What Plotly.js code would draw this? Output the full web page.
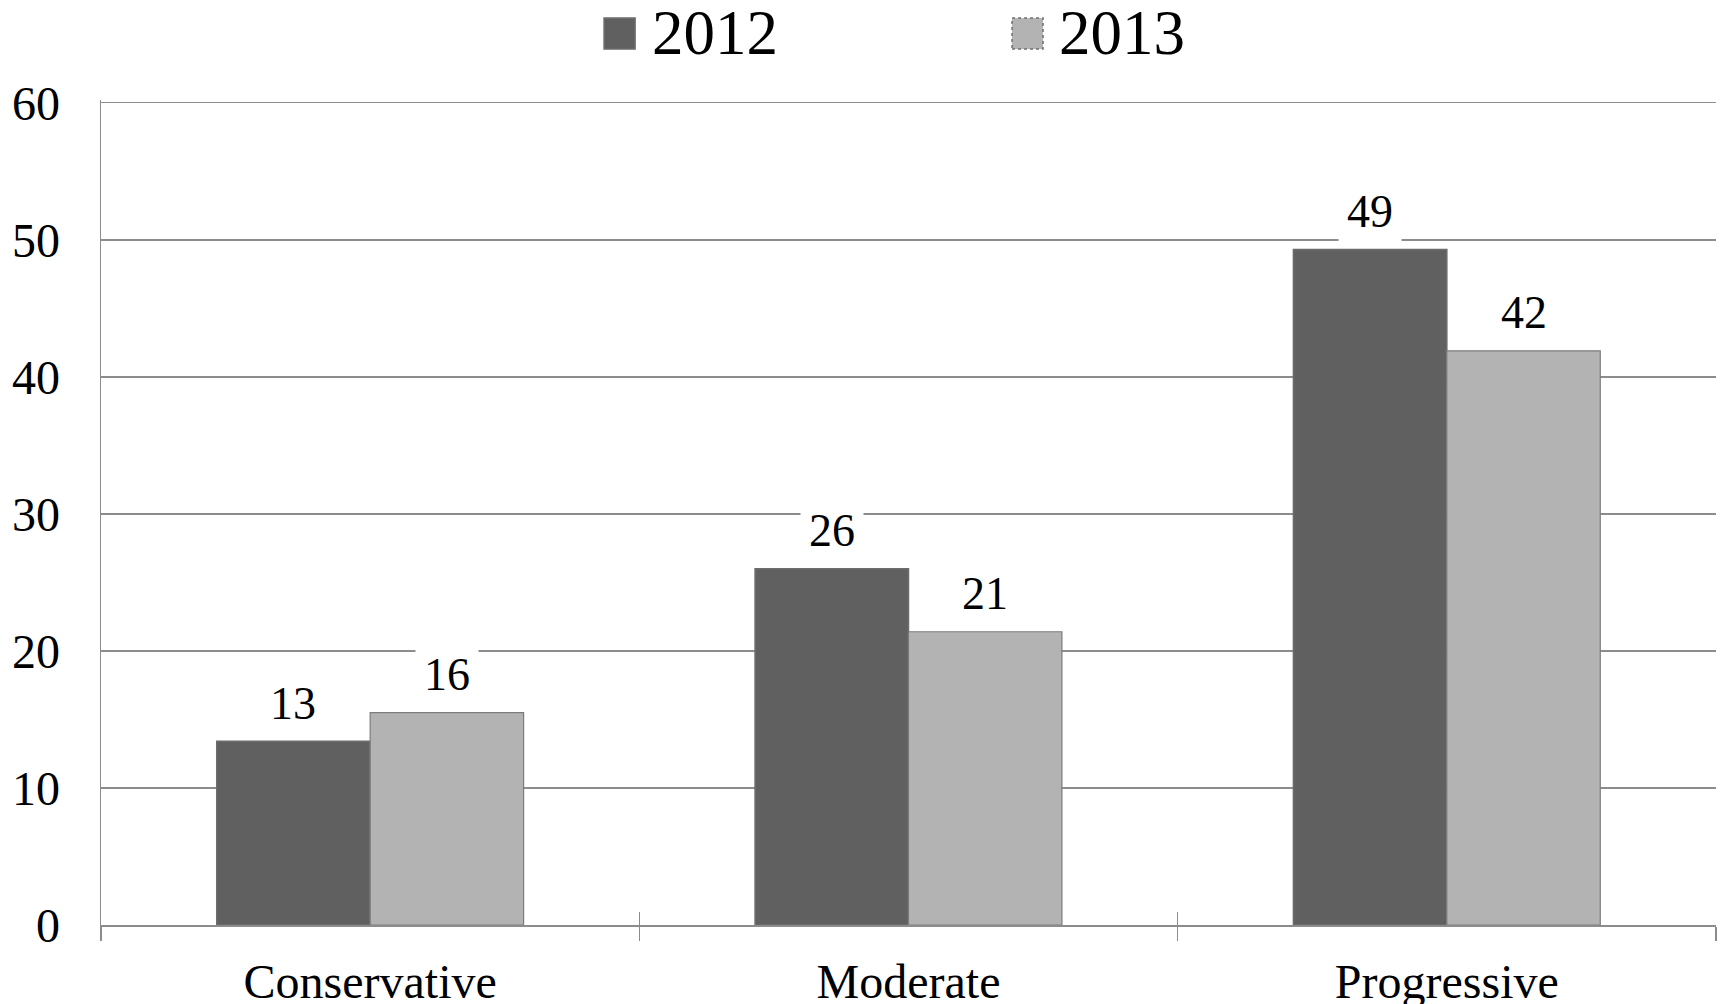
<!DOCTYPE html>
<html>
<head>
<meta charset="utf-8">
<script src="https://cdn.plot.ly/plotly-3.0.1.min.js"></script>
<style>
  html, body { margin: 0; padding: 0; background: #ffffff; }
  #chart { width: 1723px; height: 1004px; }
</style>
</head>
<body>
<div id="chart"></div>
<script>
// ---- Data ----
const categories = ["Conservative", "Moderate", "Progressive"];
const seriesNames = ["2012", "2013"];
const values2012 = [13.4, 26.0, 49.3];
const values2013 = [15.5, 21.4, 41.9];
const labels2012 = ["13", "26", "49"];
const labels2013 = ["16", "21", "42"];
const yTicks = [0, 10, 20, 30, 40, 50, 60];

// ---- Style ----
const FONT = "Liberation Serif, Times New Roman, serif";
const dark = "#606060";
const light = "#b3b3b3";
const gridCol = "#8c8c8c";
const bargap = 0.43;

const traces = [
  {
    type: "bar", name: seriesNames[0], x: categories, y: values2012,
    marker: { color: dark, line: { color: "#6c6c6c", width: 1.5 } },
    hoverinfo: "x+y", showlegend: false
  },
  {
    type: "bar", name: seriesNames[1], x: categories, y: values2013,
    marker: { color: light, line: { color: "#7c7c7c", width: 1.2 } },
    hoverinfo: "x+y", showlegend: false
  },
  {
    // helper trace so the overlaid axis draws its upward tick marks
    type: "scatter", mode: "none", x: categories, y: categories.map(() => null),
    xaxis: "x2", yaxis: "y", showlegend: false, hoverinfo: "skip"
  }
];

// data labels positioned through the category axis
const barW = (1 - bargap) / 2;
const annotations = [];
[[values2012, labels2012, -barW / 2], [values2013, labels2013, barW / 2]].forEach(([vals, labs, off]) => {
  vals.forEach((v, i) => {
    annotations.push({
      x: i + off, y: v, xref: "x", yref: "y",
      text: labs[i], showarrow: false,
      yanchor: "middle", yshift: 38,
      bgcolor: "#ffffff", borderpad: 8,
      font: { family: FONT, size: 46, color: "#000000" }
    });
  });
});

// manual legend (large swatches)
const legendItems = [
  { x0: 0.3115, x1: 0.3307, tx: 0.3400, color: dark, line: "#6c6c6c", dash: "solid", text: seriesNames[0] },
  { x0: 0.5641, x1: 0.5833, tx: 0.5920, color: light, line: "#707070", dash: "dot", text: seriesNames[1] }
];
const shapes = [];
legendItems.forEach(it => {
  shapes.push({
    type: "rect", xref: "paper", yref: "paper",
    x0: it.x0, x1: it.x1, y0: 1.0617, y1: 1.0993,
    fillcolor: it.color, line: { color: it.line, width: 1.5, dash: it.dash }
  });
  annotations.push({
    xref: "paper", yref: "paper", x: it.tx, y: 1.081,
    xanchor: "left", yanchor: "middle", showarrow: false,
    text: it.text, font: { family: FONT, size: 63, color: "#000000" }
  });
});

const layout = {
  width: 1723, height: 1004,
  margin: { l: 101, r: 7, t: 100, b: 79, pad: 0 },
  paper_bgcolor: "#ffffff", plot_bgcolor: "#ffffff",
  barmode: "group", bargap: bargap, bargroupgap: 0,
  showlegend: false,
  font: { family: FONT, color: "#000000" },
  xaxis: {
    type: "category", categoryorder: "array", categoryarray: categories,
    range: [-0.5, 2.5],
    showline: true, linecolor: gridCol, linewidth: 1.5,
    showgrid: false, zeroline: false,
    ticks: "outside", tickson: "boundaries", ticklen: 14, tickcolor: gridCol, tickwidth: 1.5,
    tickfont: { family: FONT, size: 48, color: "#000000" },
    ticklabelstandoff: 14
  },
  xaxis2: {
    type: "category", categoryorder: "array", categoryarray: categories,
    overlaying: "x", anchor: "y", side: "bottom", matches: "x",
    range: [-0.5, 2.5],
    showline: false, showgrid: false, zeroline: false,
    ticks: "inside", tickson: "boundaries", ticklen: 13, tickcolor: gridCol, tickwidth: 1.5,
    showticklabels: false
  },
  yaxis: {
    range: [0, 60.2], tickmode: "array", tickvals: yTicks,
    showline: true, linecolor: gridCol, linewidth: 1.5,
    showgrid: true, gridcolor: gridCol, gridwidth: 1.5,
    zeroline: false, ticks: "",
    tickfont: { family: FONT, size: 48, color: "#000000" },
    ticklabelstandoff: 30
  },
  annotations: annotations,
  shapes: shapes
};

Plotly.newPlot("chart", traces, layout, { displayModeBar: false, staticPlot: true });
</script>
</body>
</html>
